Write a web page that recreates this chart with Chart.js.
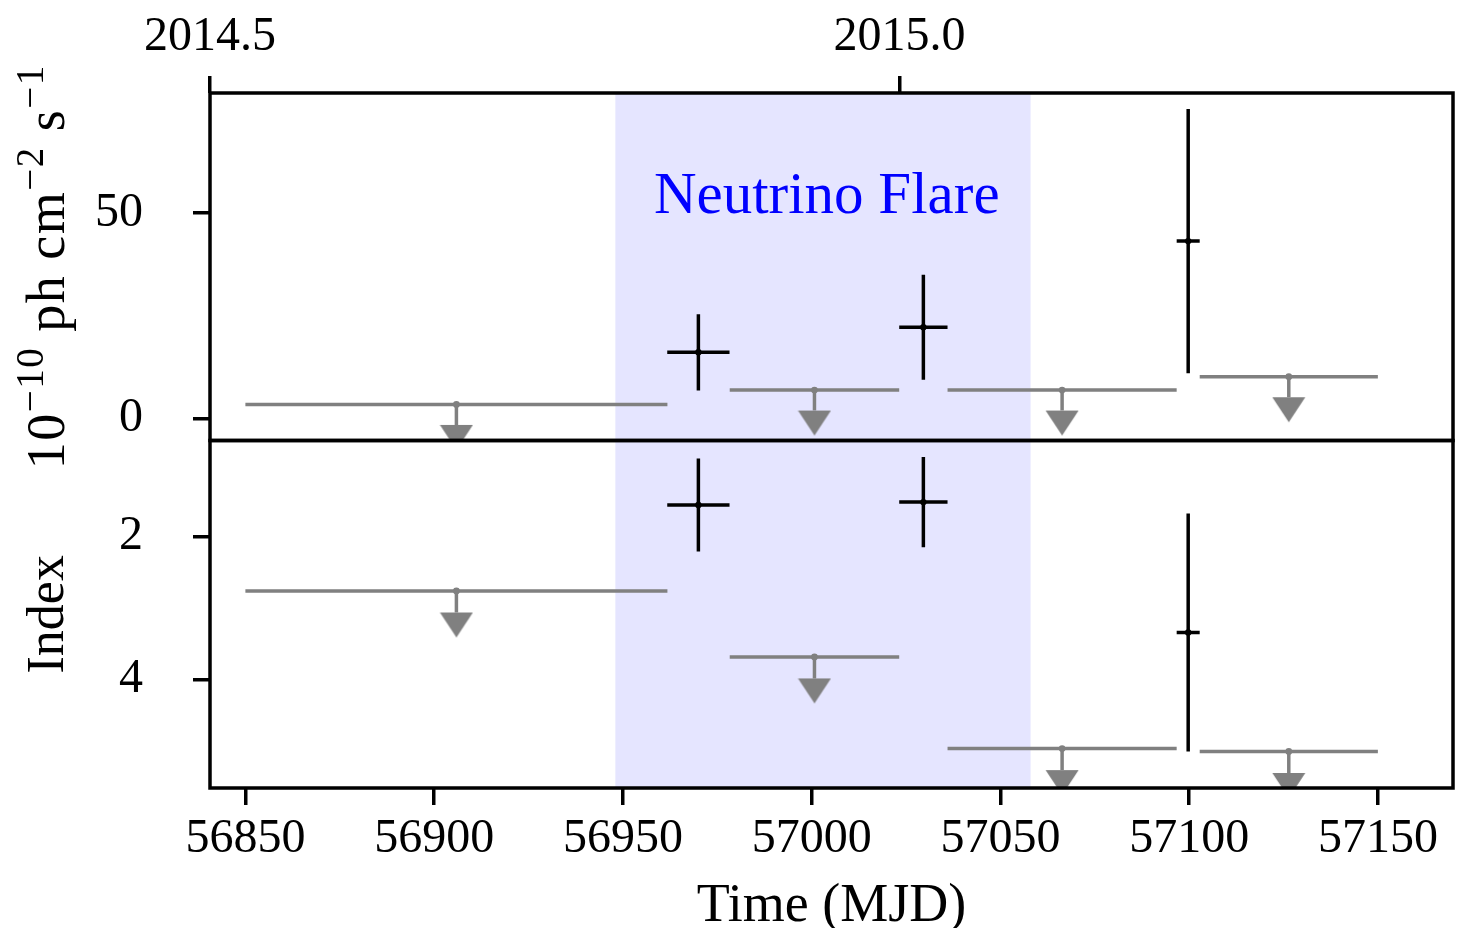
<!DOCTYPE html>
<html>
<head>
<meta charset="utf-8">
<script src="https://cdn.jsdelivr.net/npm/chart.js@4.4.1/dist/chart.umd.min.js"></script>
<style>
  html, body { margin: 0; padding: 0; background: #fff; overflow: hidden; }
  #wrap { position: relative; width: 1457px; height: 928px; }
  #c { display: block; }
</style>
</head>
<body>
<div id="wrap"><canvas id="c"></canvas></div>
<script>
// ---------------- data ----------------
const mjdTicks   = [56850, 56900, 56950, 57000, 57050, 57100, 57150];
const yearTicks  = [2014.5, 2015.0];
const fluxTicks  = [0, 50];
const indexTicks = [2, 4];

// detections (black crosses)
const detMjd      = [56970.0, 57029.6, 57099.75];
const detMjdErr   = [8.25, 6.4, 3.05];
const detFlux     = [16.1, 22.2, 43.2];
const detFluxErr  = [9.3, 12.8, 32.2];
const detIndex    = [1.56, 1.52, 3.34];
const detIndexErr = [0.65, 0.63, 1.66];

// upper limits (grey arrows)
const ulMjd    = [56905.9, 57000.75, 57066.35, 57126.4];
const ulMjdErr = [55.9, 22.45, 30.35, 23.6];
const ulFlux   = [3.4, 6.9, 6.9, 10.15];
const ulIndex  = [2.76, 3.68, 4.96, 5.0];
const ulArrowFlux  = 5;
const ulArrowIndex = 0.3;

// neutrino flare window
const flareRange = [56948, 57058];
const flareLabel = 'Neutrino Flare';
const flareLabelPos = [57004, 50];

// axis ranges
const MJD_2014_5 = 56840.625;
const DAYS_PER_YEAR = 365.25;
const xMin = MJD_2014_5, xMax = 57169.9;
const fluxMin = -5.4, fluxMax = 79.3;
const indexMin = 0.66, indexMax = 5.51;

// ---------------- styles ----------------
const GRAY = '#808080';
const LW = 3.5;
const FONT = "'Liberation Serif', 'DejaVu Serif', serif";
Chart.defaults.font.family = FONT;
Chart.defaults.color = '#000';

function hSegs(xs, xe, ys) {
  return xs.flatMap((x, i) => [{x: x - xe[i], y: ys[i]}, {x: x + xe[i], y: ys[i]}, {x: x, y: null}]);
}
function vSegs(xs, lo, hi) {
  return xs.flatMap((x, i) => [{x: x, y: lo[i]}, {x: x, y: hi[i]}, {x: x, y: null}]);
}
function pts(xs, ys) { return xs.map((x, i) => ({x: x, y: ys[i]})); }

function caret(color) {
  const w = 34, h = 26;
  const c = document.createElement('canvas');
  c.width = w; c.height = 2 * h;
  const g = c.getContext('2d');
  g.fillStyle = color;
  g.beginPath();
  g.moveTo(0.5, h); g.lineTo(w - 0.5, h); g.lineTo(w / 2, 2 * h - 1);
  g.closePath(); g.fill();
  return c;
}
const caretImg = caret(GRAY);

function segSet(data, color, axis) {
  return { data, yAxisID: axis, xAxisID: 'x', showLine: true, spanGaps: false,
    borderColor: color, backgroundColor: color, borderWidth: LW, pointRadius: 0,
    borderCapStyle: 'butt' };
}
function dotSet(data, color, axis, r) {
  return { data, yAxisID: axis, xAxisID: 'x', showLine: false,
    borderColor: color, backgroundColor: color, pointRadius: r, borderWidth: 0 };
}
function headSet(data, axis) {
  return { data, yAxisID: axis, xAxisID: 'x', showLine: false,
    pointStyle: caretImg, pointRadius: 16, borderWidth: 0 };
}

const datasets = [
  // flux panel
  segSet(hSegs(detMjd, detMjdErr, detFlux), '#000', 'yFlux'),
  segSet(vSegs(detMjd, detFlux.map((v, i) => v - detFluxErr[i]), detFlux.map((v, i) => v + detFluxErr[i])), '#000', 'yFlux'),
  dotSet(pts(detMjd, detFlux), '#000', 'yFlux', 3.2),
  segSet(hSegs(ulMjd, ulMjdErr, ulFlux), GRAY, 'yFlux'),
  segSet(vSegs(ulMjd, ulFlux, ulFlux.map(v => v - ulArrowFlux)), GRAY, 'yFlux'),
  headSet(pts(ulMjd, ulFlux.map(v => v - ulArrowFlux)), 'yFlux'),
  dotSet(pts(ulMjd, ulFlux), GRAY, 'yFlux', 3.4),
  // index panel
  segSet(hSegs(detMjd, detMjdErr, detIndex), '#000', 'yIdx'),
  segSet(vSegs(detMjd, detIndex.map((v, i) => v - detIndexErr[i]), detIndex.map((v, i) => v + detIndexErr[i])), '#000', 'yIdx'),
  dotSet(pts(detMjd, detIndex), '#000', 'yIdx', 3.2),
  segSet(hSegs(ulMjd, ulMjdErr, ulIndex), GRAY, 'yIdx'),
  segSet(vSegs(ulMjd, ulIndex, ulIndex.map(v => v + ulArrowIndex)), GRAY, 'yIdx'),
  headSet(pts(ulMjd, ulIndex.map(v => v + ulArrowIndex)), 'yIdx'),
  dotSet(pts(ulMjd, ulIndex), GRAY, 'yIdx', 3.4),
];

const tickGrid = { display: true, drawOnChartArea: false, drawTicks: true, tickLength: 17,
  tickWidth: LW, tickColor: '#000', color: '#000', lineWidth: LW };
const tickFont = { family: FONT, size: 48, lineHeight: 1.2 };

function noPad(s) { s.paddingLeft = 0; s.paddingRight = 0; s.paddingTop = 0; s.paddingBottom = 0; }

const panelPlugin = {
  id: 'panels',
  beforeDatasetsDraw(chart) {
    const {ctx, chartArea, scales} = chart;
    const x0 = scales.x.getPixelForValue(flareRange[0]);
    const x1 = scales.x.getPixelForValue(flareRange[1]);
    ctx.save();
    ctx.fillStyle = 'rgba(0,0,255,0.1)';
    ctx.fillRect(x0, chartArea.top, x1 - x0, chartArea.bottom - chartArea.top);
    ctx.restore();
  },
  beforeDatasetDraw(chart, args) {
    const ys = args.meta.yScale, ca = chart.chartArea, ctx = chart.ctx;
    ctx.save();
    ctx.beginPath();
    ctx.rect(ca.left, ys.top, ca.right - ca.left, ys.bottom - ys.top);
    ctx.clip();
  },
  afterDatasetDraw(chart) { chart.ctx.restore(); },
  afterDatasetsDraw(chart) {
    const {ctx, scales} = chart;
    ctx.save();
    ctx.strokeStyle = '#000';
    ctx.lineWidth = LW;
    ['yFlux', 'yIdx'].forEach(id => {
      const s = scales[id];
      ctx.strokeRect(scales.x.left, s.top, scales.x.right - scales.x.left, s.bottom - s.top);
    });
    // annotation text
    ctx.fillStyle = '#0000ff';
    ctx.font = '59px ' + FONT;
    ctx.textAlign = 'center';
    ctx.textBaseline = 'alphabetic';
    ctx.fillText(flareLabel, scales.x.getPixelForValue(flareLabelPos[0]), scales.yFlux.getPixelForValue(flareLabelPos[1]));
    ctx.restore();
  },
  afterDraw(chart) {
    // flux axis title with superscripts
    const {ctx, scales} = chart;
    const s = scales.yFlux;
    const baseSize = 54, supSize = 39, raise = 21;
    const parts = [['10', 0], ['\u221210', 1], [' ph cm', 0], ['\u22122', 1], [' s', 0], ['\u22121', 1]];
    ctx.save();
    ctx.fillStyle = '#000';
    if ('letterSpacing' in ctx) ctx.letterSpacing = '1.5px';
    let total = 0;
    const widths = parts.map(([t, sup]) => {
      ctx.font = (sup ? supSize : baseSize) + 'px ' + FONT;
      const w = ctx.measureText(t).width; total += w; return w;
    });
    ctx.translate(64, (s.top + s.bottom) / 2);
    ctx.rotate(-Math.PI / 2);
    ctx.textBaseline = 'alphabetic';
    ctx.textAlign = 'left';
    let x = -total / 2;
    parts.forEach(([t, sup], i) => {
      ctx.font = (sup ? supSize : baseSize) + 'px ' + FONT;
      ctx.fillText(t, x, sup ? -raise : 0);
      x += widths[i];
    });
    ctx.restore();
  }
};

new Chart(document.getElementById('c'), {
  type: 'scatter',
  data: { datasets },
  plugins: [panelPlugin],
  options: {
    responsive: true,
    maintainAspectRatio: false,
    animation: false,
    events: [],
    layout: { autoPadding: false, padding: { left: 0, right: 4, top: 0, bottom: 0 } },
    plugins: { legend: { display: false }, tooltip: { enabled: false } },
    scales: {
      x: {
        type: 'linear', position: 'bottom', min: xMin, max: xMax,
        afterBuildTicks: s => { s.ticks = mjdTicks.map(v => ({value: v})); },
        afterFit: s => { s.height = 140; noPad(s); },
        ticks: { autoSkip: false, maxRotation: 0, padding: 6, font: tickFont, color: '#000',
          callback: v => String(v) },
        grid: tickGrid,
        border: { display: false },
        title: { display: true, text: 'Time (MJD)', color: '#000',
          font: { family: FONT, size: 54, lineHeight: 0.8 }, padding: { top: 0, bottom: 0 } }
      },
      xYear: {
        type: 'linear', axis: 'x', position: 'top',
        min: 2014.5, max: 2014.5 + (xMax - xMin) / DAYS_PER_YEAR,
        afterBuildTicks: s => { s.ticks = yearTicks.map(v => ({value: v})); },
        afterFit: s => { s.height = 93; noPad(s); },
        ticks: { autoSkip: false, maxRotation: 0, padding: 10, font: tickFont, color: '#000',
          callback: v => v.toFixed(1) },
        grid: tickGrid,
        border: { display: false }
      },
      yIdx: {
        type: 'linear', position: 'left', stack: 'panels', stackWeight: 1,
        min: indexMin, max: indexMax, reverse: true,
        afterBuildTicks: s => { s.ticks = indexTicks.map(v => ({value: v})); },
        afterFit: s => { s.width = 210; noPad(s); },
        ticks: { autoSkip: false, padding: 50, font: tickFont, color: '#000',
          callback: v => String(v) },
        grid: tickGrid,
        border: { display: false },
        title: { display: true, text: 'Index', color: '#000',
          font: { family: FONT, size: 52, lineHeight: 1.0 }, padding: { top: 23, bottom: 0 } }
      },
      yFlux: {
        type: 'linear', position: 'left', stack: 'panels', stackWeight: 1,
        min: fluxMin, max: fluxMax,
        afterBuildTicks: s => { s.ticks = fluxTicks.map(v => ({value: v})); },
        afterFit: s => { s.width = 210; noPad(s); },
        ticks: { autoSkip: false, padding: 50, font: tickFont, color: '#000',
          callback: v => String(v) },
        grid: tickGrid,
        border: { display: false }
      }
    }
  }
});
</script>
</body>
</html>
